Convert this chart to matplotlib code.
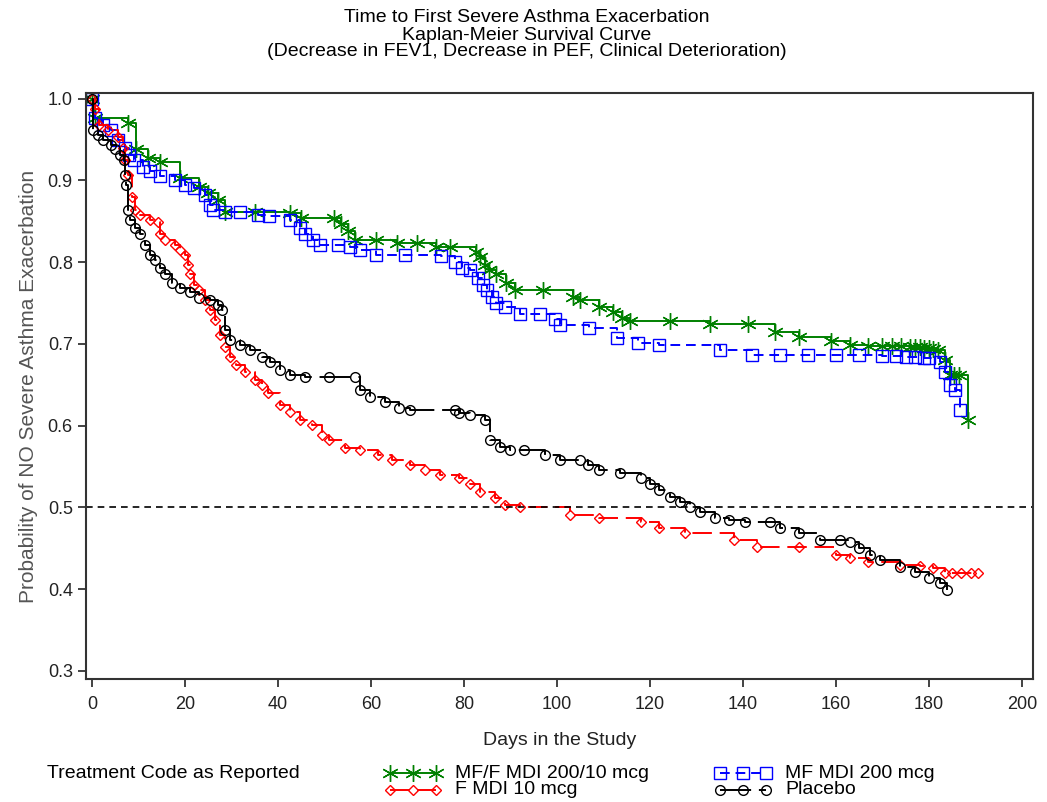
import matplotlib
matplotlib.use('Agg')
import matplotlib.pyplot as plt
from matplotlib.lines import Line2D

plt.rcParams['font.family'] = ['Liberation Sans', 'DejaVu Sans']

# MF/F MDI 200/10 mcg
mff_days = [0, 0.6, 7.7, 9.5, 12, 14.6, 19, 23, 25, 27, 28.6, 35, 42.6, 45, 52, 53.5, 55, 56.5,
            61, 65.5, 70, 74, 77, 82.6, 83.5, 84.5, 85.5, 87, 89, 91, 97, 103.4, 105, 109, 112,
            114, 115.7, 124.3, 133, 141, 147, 152, 159, 163, 167, 170, 172, 174, 176, 177, 178,
            179, 180, 181, 182, 183.4, 184.5, 185.5, 186.5, 188.4]
mff_surv = [1.0, 0.977, 0.97, 0.938, 0.928, 0.922, 0.903, 0.892, 0.885, 0.876, 0.862, 0.862,
            0.86, 0.854, 0.854, 0.847, 0.838, 0.827, 0.827, 0.823, 0.823, 0.818, 0.818, 0.813,
            0.806, 0.797, 0.79, 0.785, 0.775, 0.766, 0.766, 0.758, 0.754, 0.745, 0.739, 0.732,
            0.728, 0.728, 0.724, 0.724, 0.715, 0.709, 0.703, 0.699, 0.698, 0.698, 0.697, 0.697,
            0.696, 0.696, 0.696, 0.695, 0.695, 0.694, 0.693, 0.68, 0.662, 0.662, 0.662, 0.607]

# MF MDI 200 mcg
mf_days = [0, 0.6, 2.4, 4, 5.6, 7, 8, 9, 11, 12.5, 14.6, 17.8, 20, 22, 24.3, 25.4, 26, 28.6,
           31.8, 35.7, 38, 42.6, 44.7, 45.8, 47.5, 49, 53, 55.5, 57.6, 61, 67.3, 75, 78, 79.6,
           81.3, 83, 84, 85, 86, 87, 88.8, 92, 96.3, 99.6, 100.6, 107, 113, 117.4, 122, 135,
           142, 148, 154, 160, 165, 170, 173, 175, 177, 179, 180, 182.4, 183.4, 184.5, 185.6,
           186.7]
mf_surv = [1.0, 0.977, 0.968, 0.962, 0.95, 0.94, 0.931, 0.925, 0.916, 0.911, 0.905, 0.901,
           0.895, 0.891, 0.882, 0.87, 0.864, 0.862, 0.862, 0.858, 0.856, 0.852, 0.842, 0.834,
           0.827, 0.821, 0.821, 0.818, 0.815, 0.809, 0.809, 0.808, 0.8, 0.793, 0.79, 0.781,
           0.772, 0.766, 0.758, 0.75, 0.745, 0.736, 0.736, 0.73, 0.723, 0.72, 0.707, 0.701,
           0.699, 0.693, 0.687, 0.687, 0.687, 0.687, 0.687, 0.685, 0.685, 0.684, 0.684, 0.683,
           0.683, 0.678, 0.666, 0.65, 0.644, 0.619]

# F MDI 10 mcg
f_days = [0, 0.6, 1.5, 3.4, 5.6, 6.7, 7, 7.7, 8.5, 9.2, 10.3, 12.5, 14.2, 14.6, 15.7, 17.8,
          19, 20, 20.6, 21, 22, 23, 24.3, 25.4, 26.5, 27.5, 28.6, 29.7, 31, 33, 35, 36.6,
          37.8, 40.4, 42.6, 44.7, 47.3, 49.5, 51, 54.4, 57.6, 61.5, 64.5, 68.4, 71.6, 74.8,
          79, 81.3, 83.4, 86.7, 88.8, 92, 102.8, 109, 118, 122, 127.5, 138, 143, 152, 160,
          163, 167, 173.8, 178, 181, 183.4, 185, 187, 189, 190.5]
f_surv = [1.0, 0.987, 0.968, 0.962, 0.953, 0.94, 0.925, 0.907, 0.88, 0.864, 0.858, 0.852,
          0.849, 0.834, 0.827, 0.821, 0.815, 0.809, 0.797, 0.785, 0.772, 0.766, 0.754, 0.742,
          0.729, 0.711, 0.696, 0.684, 0.674, 0.666, 0.656, 0.65, 0.64, 0.625, 0.617, 0.607,
          0.601, 0.589, 0.583, 0.573, 0.57, 0.564, 0.558, 0.552, 0.546, 0.54, 0.536, 0.528,
          0.519, 0.512, 0.503, 0.5, 0.491, 0.487, 0.482, 0.475, 0.469, 0.46, 0.452, 0.452,
          0.442, 0.438, 0.433, 0.43, 0.428, 0.426, 0.42, 0.42, 0.42, 0.42, 0.42]

# Placebo
p_days = [0, 0.2, 1.3, 2.4, 4, 5, 6, 6.9, 7.1, 7.3, 7.7, 8.2, 9.2, 10.3, 11.4, 12.5, 13.5,
          14.6, 15.7, 17.2, 19, 21, 23, 25.4, 27, 28, 28.6, 29.7, 31.8, 34, 36.6, 38.3, 40.4,
          42.6, 45.8, 51, 56.6, 57.6, 59.8, 63, 66, 68.4, 78, 79, 81.3, 84.5, 85.6, 87.7, 90,
          93, 97.4, 100.6, 105, 106.7, 109, 113.5, 118, 120, 122, 124.3, 126.5, 128.6, 130.8,
          134, 137, 140.4, 145.8, 148, 152, 156.6, 161, 163, 165, 167.3, 169.5, 173.8, 177,
          180, 182.4, 184]
p_surv = [1.0, 0.962, 0.956, 0.95, 0.944, 0.938, 0.931, 0.925, 0.907, 0.895, 0.864, 0.852,
          0.842, 0.834, 0.821, 0.809, 0.803, 0.793, 0.785, 0.775, 0.769, 0.763, 0.756, 0.754,
          0.748, 0.742, 0.717, 0.705, 0.699, 0.693, 0.684, 0.678, 0.668, 0.662, 0.659, 0.659,
          0.659, 0.644, 0.635, 0.629, 0.622, 0.619, 0.619, 0.616, 0.613, 0.607, 0.583, 0.574,
          0.57, 0.57, 0.564, 0.558, 0.558, 0.552, 0.546, 0.542, 0.536, 0.528, 0.521, 0.513,
          0.506, 0.5, 0.494, 0.487, 0.485, 0.482, 0.482, 0.475, 0.469, 0.46, 0.46, 0.457,
          0.45, 0.442, 0.436, 0.427, 0.421, 0.414, 0.408, 0.399]

series = [
    ('MF/F MDI 200/10 mcg', mff_days, mff_surv, 'green', '-', (6, 2, 0), 12),
    ('MF MDI 200 mcg', mf_days, mf_surv, 'blue', (0, (5, 3)), 's', 8),
    ('F MDI 10 mcg', f_days, f_surv, 'red', (0, (10, 4)), 'D', 5),
    ('Placebo', p_days, p_surv, 'black', (0, (16, 4)), 'o', 7),
]

fig = plt.figure(figsize=(10.47, 8.02), dpi=100)
ax = fig.add_axes([0.0821, 0.1534, 0.9045, 0.7306])

styles = {}
for name, d, s, col, ls, mk, ms in series:
    ax.plot(d, s, drawstyle='steps-post', color=col, lw=1.4, linestyle=ls)
    ax.plot(d, s, linestyle='none', marker=mk, ms=ms, mfc='none', mec=col, mew=1.0)
    styles[name] = dict(color=col, lw=1.4, linestyle=ls, marker=mk, ms=ms,
                        mfc='none', mec=col, mew=1.0)

ax.axhline(0.5, color='black', lw=1.2, linestyle=(0, (4, 3)))

ax.set_xlim(-1.3, 202.4)
ax.set_ylim(0.29, 1.007)
ax.set_xticks(range(0, 201, 20))
ax.set_yticks([0.3, 0.4, 0.5, 0.6, 0.7, 0.8, 0.9, 1.0])
ax.set_yticklabels(['0.3', '0.4', '0.5', '0.6', '0.7', '0.8', '0.9', '1.0'])
ax.tick_params(direction='out', length=6, width=1.2, labelsize=13, colors='#222222')
ax.tick_params(axis='x', pad=6)
for sp in ax.spines.values():
    sp.set_linewidth(1.5)
    sp.set_color('#333333')
ax.set_xlabel('Days in the Study', fontsize=14, color='#222222', labelpad=14)
ax.set_ylabel('Probability of NO Severe Asthma Exacerbation', fontsize=15, color='#555555',
              labelpad=7)

title_lines = ['Time to First Severe Asthma Exacerbation', 'Kaplan-Meier Survival Curve',
               '(Decrease in FEV1, Decrease in PEF, Clinical Deterioration)']
for i, line in enumerate(title_lines):
    fig.text(0.503, 1 - (18 + 17 * i) / 802, line, ha='center', va='center', fontsize=14)

fig.text(47 / 1047, 1 - 773 / 802, 'Treatment Code as Reported', ha='left', va='center',
         fontsize=14)

# legend drawn by hand: (name, handle left px, row y px)
legend_rows = [('MF/F MDI 200/10 mcg', 385, 773), ('F MDI 10 mcg', 385, 790),
               ('MF MDI 200 mcg', 715, 773), ('Placebo', 715, 790)]
W, H = 1047, 802
for name, x0, y0 in legend_rows:
    xs = [(x0 + 5) / W, (x0 + 28) / W, (x0 + 51) / W]
    ys = [1 - y0 / H] * 3
    fig.add_artist(Line2D(xs, ys, transform=fig.transFigure, **styles[name]))
    fig.text((x0 + 70) / W, 1 - y0 / H, name, ha='left', va='center', fontsize=14)

fig.savefig('out.png', dpi=100)
